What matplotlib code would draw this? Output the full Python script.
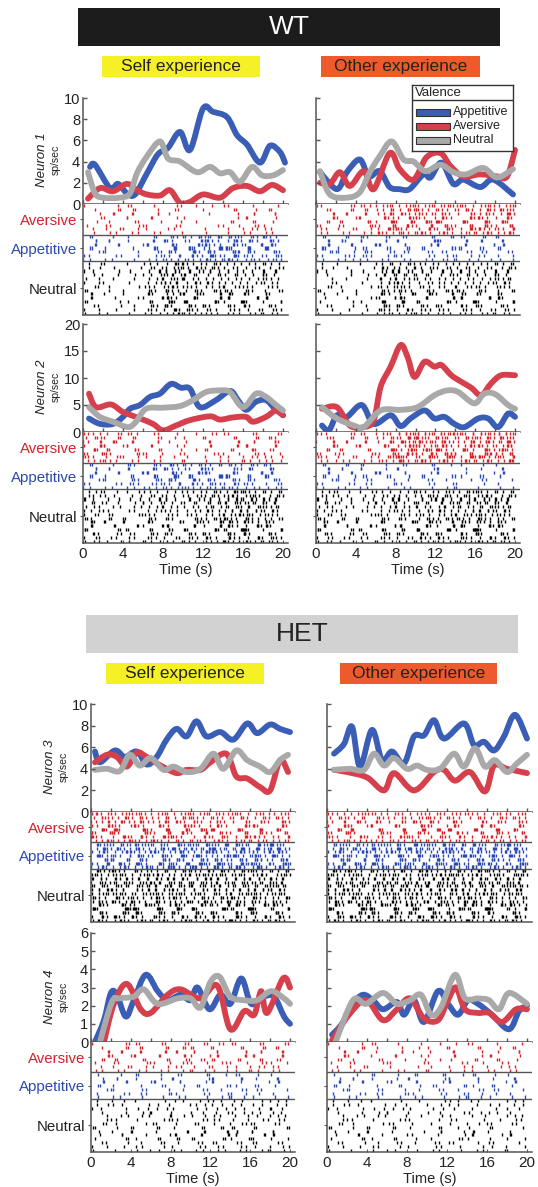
import math
import matplotlib
matplotlib.use('Agg')
import matplotlib.pyplot as plt
from matplotlib.patches import Rectangle, PathPatch
from matplotlib.path import Path

plt.rcParams['font.family'] = ['Liberation Sans', 'DejaVu Sans']

W, H = 538, 1187

# ---- firing-rate curves, (time s, sp/sec) ----
n1_self_app = [(0.7, 3.5), (1.2, 3.7), (2.7, 1.5), (3.5, 1.9), (4.4, 1.0), (5.2, 0.9), (6.4, 2.9), (7.5, 4.7),
               (8.5, 5.3), (9.7, 6.8), (10.7, 5.1), (12.0, 9.0), (13.0, 8.7), (14.4, 8.2), (15.4, 6.5),
               (16.4, 5.6), (17.7, 3.9), (18.7, 5.5), (19.7, 4.9), (20.2, 3.9)]
n1_self_av = [(0.5, 0.5), (1.7, 1.5), (3.0, 1.2), (4.4, 1.9), (5.4, 1.3), (6.4, 0.9), (7.7, 0.8), (8.7, 1.3),
              (9.7, 0.1), (10.7, 0.2), (12.0, 0.9), (13.7, 0.6), (15.0, 1.5), (16.4, 1.7), (17.7, 1.2),
              (18.9, 1.8), (20.0, 1.3)]
n1_self_neu = [(0.5, 3.0), (1.2, 1.0), (2.0, 0.6), (3.7, 0.6), (4.7, 1.0), (5.4, 2.9), (6.4, 4.5), (7.7, 5.9),
               (8.5, 4.3), (9.7, 4.0), (11.4, 3.0), (12.7, 3.5), (13.7, 2.9), (14.7, 3.0), (15.7, 2.1),
               (16.9, 3.5), (17.9, 2.7), (19.0, 2.7), (20.0, 3.2)]

n1_other_app = [(0.4, 3.0), (2.1, 1.4), (3.1, 3.0), (4.4, 4.2), (5.3, 2.6), (6.4, 3.1), (7.4, 1.6), (8.4, 1.4),
                (9.4, 1.4), (10.8, 2.8), (11.5, 2.5), (12.6, 3.9), (13.8, 1.9), (14.8, 2.3), (16.5, 1.6),
                (17.8, 2.3), (19.8, 0.9)]
n1_other_av = [(0.4, 2.0), (1.4, 1.9), (2.4, 3.0), (3.4, 1.7), (4.8, 3.1), (5.8, 1.4), (7.4, 4.8), (8.4, 3.3),
               (9.8, 2.3), (11.1, 4.4), (12.5, 4.8), (13.5, 3.6), (14.8, 2.6), (16.5, 2.8), (18.2, 2.6),
               (19.2, 2.6), (20.0, 5.1)]
n1_other_neu = [(0.4, 3.1), (1.4, 0.9), (3.1, 0.6), (4.4, 1.1), (5.4, 3.0), (6.4, 4.5), (7.6, 5.9), (8.8, 4.2),
                (9.8, 4.0), (11.0, 3.1), (12.5, 3.7), (13.8, 3.0), (15.1, 2.8), (16.8, 3.4), (18.2, 2.5),
                (19.8, 3.3)]

n2_self_app = [(0.6, 2.5), (1.7, 1.5), (3.0, 1.5), (4.0, 2.8), (4.7, 4.3), (5.7, 5.0), (6.7, 6.5), (7.7, 7.1),
               (8.8, 8.9), (9.8, 8.2), (10.7, 8.0), (11.7, 4.6), (13.3, 5.9), (14.7, 7.6), (15.5, 5.9),
               (16.3, 4.1), (17.3, 5.6), (18.3, 5.9), (19.2, 4.3), (20.0, 3.1)]
n2_self_av = [(0.6, 7.1), (1.3, 4.6), (2.8, 5.1), (4.0, 3.7), (5.7, 2.5), (7.0, 1.5), (8.0, 0.3), (9.3, 1.2),
              (10.7, 2.2), (12.7, 2.9), (13.7, 2.3), (15.0, 2.7), (16.3, 2.8), (17.0, 1.9), (18.3, 2.8),
              (19.3, 4.0), (20.0, 3.1)]
n2_self_neu = [(0.6, 4.6), (1.7, 2.8), (3.0, 1.9), (4.5, 0.9), (5.3, 1.9), (6.3, 4.3), (8.0, 4.5), (9.7, 4.8),
               (11.0, 5.9), (12.3, 7.4), (13.7, 7.7), (14.7, 7.4), (16.0, 4.6), (17.3, 7.1), (18.3, 6.5),
               (19.3, 5.0), (20.0, 4.0)]

n2_other_app = [(0.6, 1.2), (1.3, 0.3), (2.1, 3.1), (3.1, 2.8), (4.6, 5.0), (5.8, 1.5), (7.5, 3.1), (8.5, 1.1),
                (9.5, 2.5), (10.9, 4.0), (11.9, 2.5), (12.9, 2.8), (13.9, 1.5), (14.9, 0.9), (16.3, 2.5),
                (17.3, 2.5), (18.3, 0.9), (19.3, 3.4), (20.0, 2.8)]
n2_other_av = [(0.6, 4.3), (2.1, 4.6), (3.4, 1.2), (4.8, 0.9), (5.8, 2.2), (6.5, 8.4), (7.5, 12.1), (8.5, 16.1),
               (9.2, 13.9), (9.9, 10.2), (10.9, 13.0), (11.9, 12.1), (12.6, 12.4), (13.6, 10.5), (14.6, 9.3),
               (15.6, 8.2), (16.6, 6.8), (17.6, 9.0), (18.6, 10.5), (20.0, 10.5)]
n2_other_neu = [(0.6, 4.6), (2.1, 2.5), (3.8, 1.2), (4.8, 0.9), (6.5, 4.0), (8.5, 4.1), (10.2, 4.6), (11.9, 6.8),
                (13.2, 7.7), (14.3, 7.4), (15.9, 5.3), (16.9, 7.1), (18.0, 7.0), (19.3, 5.0), (20.0, 4.3)]

n3_self_app = [(0.4, 5.6), (0.9, 4.6), (2.4, 5.7), (3.4, 5.1), (4.6, 5.6), (5.6, 4.4), (6.6, 5.1), (7.6, 6.7),
               (8.6, 7.7), (9.6, 7.0), (10.6, 8.4), (11.6, 7.0), (13.0, 7.4), (14.3, 6.7), (15.7, 8.2),
               (16.7, 7.3), (18.0, 8.1), (19.0, 7.7), (20.0, 7.4)]
n3_self_av = [(0.4, 4.6), (1.6, 5.3), (2.6, 5.1), (3.6, 4.2), (4.6, 5.5), (5.6, 5.1), (7.0, 4.3), (8.6, 3.6),
              (9.6, 3.9), (11.0, 3.9), (12.0, 4.6), (13.6, 5.4), (14.6, 3.3), (15.7, 3.1), (17.0, 2.3),
              (18.0, 2.0), (19.0, 4.8), (19.8, 3.7)]
n3_self_neu = [(0.4, 3.9), (1.6, 4.0), (2.9, 3.8), (3.9, 5.3), (4.9, 4.3), (6.0, 5.0), (7.3, 3.9), (8.3, 4.2),
               (9.6, 3.7), (11.0, 4.0), (12.3, 5.4), (13.3, 4.0), (14.6, 5.7), (15.7, 4.8), (17.0, 4.2),
               (18.0, 3.7), (19.0, 4.8), (19.8, 5.3)]

n3_other_app = [(0.7, 5.4), (1.7, 6.3), (2.5, 7.9), (3.3, 4.2), (4.5, 7.6), (5.5, 4.8), (6.5, 5.6), (7.7, 4.5),
                (8.7, 7.0), (9.7, 7.1), (10.7, 8.5), (11.7, 6.8), (13.7, 8.2), (14.7, 6.2), (15.7, 6.5),
                (16.7, 5.7), (17.7, 7.0), (18.8, 9.0), (20.0, 6.8)]
n3_other_av = [(0.7, 3.9), (2.0, 3.7), (4.0, 3.2), (5.7, 2.0), (6.7, 3.6), (8.7, 2.0), (10.7, 3.7), (11.7, 3.9),
               (12.8, 2.9), (14.3, 3.7), (15.8, 1.9), (16.7, 4.3), (18.0, 4.0), (20.0, 3.6)]
n3_other_neu = [(0.7, 3.9), (2.3, 4.0), (3.7, 3.9), (4.7, 5.4), (5.7, 4.3), (6.7, 5.0), (8.0, 4.0), (9.0, 4.3),
                (10.0, 3.9), (11.3, 4.0), (12.7, 5.4), (13.7, 4.2), (14.8, 5.9), (15.8, 4.2), (16.8, 4.8),
                (18.0, 3.7), (19.0, 4.5), (20.0, 5.3)]

n4_self_app = [(0.4, 0.0), (1.3, 1.2), (2.0, 2.7), (2.6, 2.6), (3.5, 1.4), (4.3, 2.3), (5.5, 3.7), (6.7, 2.8),
               (7.7, 2.3), (9.0, 2.6), (10.0, 2.3), (10.7, 3.0), (11.9, 1.8), (13.0, 2.6), (14.0, 2.1),
               (15.1, 3.5), (16.1, 2.1), (17.4, 2.5), (18.4, 2.5), (19.4, 1.4), (20.0, 1.0)]
n4_self_av = [(1.3, 0.0), (2.3, 2.1), (3.6, 3.2), (5.0, 1.8), (6.0, 1.6), (7.7, 2.6), (9.0, 2.9), (11.0, 2.4),
              (12.7, 3.1), (14.0, 0.7), (15.4, 1.7), (16.4, 1.5), (17.1, 2.8), (17.7, 1.6), (19.3, 3.5),
              (20.0, 3.0)]
n4_self_neu = [(0.9, 0.0), (2.1, 2.2), (2.9, 2.4), (4.3, 2.5), (5.3, 2.9), (6.7, 2.1), (8.7, 2.4), (10.0, 2.4),
               (11.0, 1.9), (12.0, 3.3), (12.9, 3.6), (14.0, 2.5), (15.4, 2.3), (16.7, 2.3), (18.1, 2.8),
               (19.4, 2.4), (20.0, 2.1)]

n4_other_app = [(0.5, 0.4), (1.5, 1.0), (2.6, 2.1), (3.6, 2.6), (4.6, 2.3), (5.6, 1.8), (7.0, 2.2), (7.7, 1.5),
                (8.7, 2.3), (9.7, 1.1), (11.1, 2.8), (12.1, 2.1), (13.1, 1.5), (14.1, 2.3), (15.1, 2.1),
                (16.5, 1.5), (18.2, 0.7), (19.2, 1.7), (20.0, 2.0)]
n4_other_av = [(0.5, 0.1), (2.2, 1.5), (3.9, 2.3), (5.6, 1.2), (7.0, 1.8), (8.3, 2.4), (9.7, 1.3), (11.1, 1.2),
               (12.1, 2.3), (12.9, 3.0), (13.8, 1.8), (15.1, 1.6), (16.2, 1.6), (17.5, 1.1), (18.9, 1.8),
               (20.0, 1.8)]
n4_other_neu = [(0.85, 0.0), (2.6, 2.3), (3.9, 2.1), (5.6, 2.7), (7.0, 2.1), (8.3, 2.3), (9.4, 2.6), (10.4, 1.5),
                (11.4, 1.9), (12.8, 3.7), (13.8, 2.4), (15.1, 2.4), (16.2, 2.3), (17.2, 1.8), (18.2, 2.7),
                (20.0, 2.1)]

# ---- raster density: ticks per trial in each 2 s bin (0-2 ... 18-20), read by eye ----
r1_self_av = [1, 1.5, 2, 1.5, 1.5, 0.5, 0.8, 1.5, 1.8, 1.5]
r1_self_app = [2, 1.5, 1, 2.5, 4, 4.5, 6, 5.5, 4, 4]
r1_self_neu = [2, 1, 1, 3, 5, 4, 3.5, 3, 3, 3]
r1_other_av = [2, 2, 2.5, 5, 5, 5, 5, 4.5, 5, 5.5]
r1_other_app = [2.5, 2.5, 2.5, 2, 2, 2, 2.5, 2, 2, 2]
r1_other_neu = [1.5, 1, 1, 4, 4, 3, 3, 3, 3, 3.5]
r2_self_av = [4, 3, 2.5, 2, 1, 1, 2, 2, 2.5, 2.5]
r2_self_app = [2, 1.5, 2.5, 3, 5, 4, 4, 4, 3, 3]
r2_self_neu = [3, 2, 2, 3, 3, 3, 4, 5, 5, 4]
r2_other_av = [3, 2, 2, 4, 7, 7, 7, 6, 6, 7]
r2_other_app = [2, 2, 2, 1.5, 1.5, 1.5, 1.5, 1, 1.5, 1.5]
r2_other_neu = [3, 2, 2, 3, 3, 4, 4, 4, 5, 4]
r3_self_av = [5, 5, 5, 5, 4.5, 4.5, 4.5, 4.5, 4, 4]
r3_self_app = [6, 6, 6, 6, 6.5, 7, 7, 7, 7, 7]
r3_self_neu = [5, 5, 5, 5, 5, 5, 5, 5, 5, 5]
r3_other_av = [4, 4, 3.5, 4, 4, 4, 4, 3.5, 4, 4]
r3_other_app = [6, 6, 6, 6, 6.5, 6.5, 6.5, 6.5, 6.5, 7]
r3_other_neu = [5, 5, 5, 5, 5, 5, 5.5, 5, 5, 5.5]
r4_self_av = [1.5, 2, 2, 2, 2, 2, 2, 2, 2, 2]
r4_self_app = [1.5, 1.5, 1.5, 1.5, 1.5, 1.5, 1.5, 1.5, 1.5, 1.5]
r4_self_neu = [1.5, 1.5, 1.5, 1.5, 1.5, 2, 2, 2, 2, 2]
r4_other_av = [1.5, 1.5, 1.5, 1.5, 1, 1, 1.5, 1.5, 1.5, 1.5]
r4_other_app = [1.5, 1.5, 1.5, 1.5, 1.5, 1.5, 1.5, 1.5, 1.5, 1.5]
r4_other_neu = [1.5, 1.5, 1.5, 1.5, 1, 1.5, 1.5, 1.5, 1.5, 1.5]

C_APP, C_AV, C_NEU = '#3a5eb5', '#d6404d', '#a9a9a9'
R_AV, R_APP = '#d2232a', '#2a48b0'
SPINE = '#555555'
TXT = '#222222'
N_AV, N_APP, N_NEU = 8, 7, 14


def box(x0, y0, x1, y1):
    return [x0 / W, 1 - y1 / H, (x1 - x0) / W, (y1 - y0) / H]


fig = plt.figure(figsize=(W / 100, H / 100), dpi=100)


def banner(x0, y0, x1, y1, label, fc, tc, fs):
    fig.patches.append(Rectangle((x0 / W, 1 - y1 / H), (x1 - x0) / W, (y1 - y0) / H,
                                 transform=fig.transFigure, facecolor=fc, edgecolor='none'))
    fig.text((x0 + x1) / 2 / W, 1 - (y0 + y1) / 2 / H, label, color=tc, fontsize=fs,
             ha='center', va='center')


banner(78, 8, 500, 46, 'WT', '#1c1c1c', 'white', 19)
banner(102, 56, 260, 77, 'Self experience', '#f6f126', TXT, 12.5)
banner(321, 56, 480, 77, 'Other experience', '#ef5a2c', TXT, 12.5)
banner(86, 615, 518, 653, 'HET', '#d2d2d2', TXT, 19)
banner(106, 663, 264, 684, 'Self experience', '#f6f126', TXT, 12.5)
banner(340, 663, 497, 684, 'Other experience', '#ef5a2c', TXT, 12.5)


def smooth_path(pts):
    # Catmull-Rom through the read points, drawn as cubic Bezier segments
    verts = [pts[0]]
    codes = [Path.MOVETO]
    n = len(pts)
    for i in range(n - 1):
        p0 = pts[max(i - 1, 0)]
        p1, p2 = pts[i], pts[i + 1]
        p3 = pts[min(i + 2, n - 1)]
        c1 = (p1[0] + (p2[0] - p0[0]) / 6, p1[1] + (p2[1] - p0[1]) / 6)
        c2 = (p2[0] - (p3[0] - p1[0]) / 6, p2[1] - (p3[1] - p1[1]) / 6)
        verts += [c1, c2, p2]
        codes += [Path.CURVE4] * 3
    return Path(verts, codes)


def spikes(dens, n_rows, row0, seed):
    # lay the read per-bin counts out as ticks, spread evenly with a
    # quadratic Weyl offset per trial so rows do not line up
    ts, rs = [], []
    for r in range(n_rows):
        ph = (0.5 * r * r * 0.7548777 + r * 0.5698403 + seed) % 1
        step = 0.618034 + 0.0731 * r
        for b, d in enumerate(dens):
            off = (0.37 * b + seed + 0.29 * r) % 1
            n = int(math.floor((r + 1) * d + off) - math.floor(r * d + off))
            for j in range(n):
                u = (ph + b * (r * 0.381966 + 0.1) + j * step + 0.13 * b * b * r + 0.047 * j * j) % 1
                ts.append(2 * b + 2 * u)
                rs.append(row0 + r + 0.5)
    return ts, rs


def panel(xs, ys_line, ys_rast, curves, rast, yticks, name, left, bottom):
    x0, x1 = xs
    ax = fig.add_axes(box(x0, ys_line[0], x1, ys_line[1]))
    for pts, c in zip(curves, [C_APP, C_AV, C_NEU]):
        ax.add_patch(PathPatch(smooth_path(pts), fill=False, edgecolor=c, lw=4.2,
                               capstyle='round', joinstyle='round'))
    ax.set_xlim(0, 20.5)
    ax.set_ylim(0, yticks[-1])
    ax.set_yticks(yticks)
    ax.set_xticks(range(0, 21, 2))
    ax.set_xticklabels([])
    if not left:
        ax.set_yticklabels([])
    ax.tick_params(direction='in', length=3, width=1, color=SPINE, labelsize=10.5, pad=2, labelcolor=TXT)
    for s in ['top', 'right']:
        ax.spines[s].set_visible(False)
    for s in ['left', 'bottom']:
        ax.spines[s].set_color(SPINE)
        ax.spines[s].set_linewidth(1.1)

    if left:
        yc = 1 - ((ys_line[0] + ys_line[1]) / 2 + 9) / H
        fig.text((x0 - 41) / W, yc, name, rotation=90, style='italic', fontsize=9.5,
                 ha='center', va='center', color=TXT)
        fig.text((x0 - 27) / W, yc, 'sp/sec', rotation=90, fontsize=7.5,
                 ha='center', va='center', color=TXT)

    ar = fig.add_axes(box(x0, ys_rast[0], x1, ys_rast[1]))
    groups = [(rast[2], N_NEU, 0, 'k'), (rast[1], N_APP, N_NEU, R_APP), (rast[0], N_AV, N_NEU + N_APP, R_AV)]
    for i, (dens, n, r0, c) in enumerate(groups):
        ts, rs = spikes(dens, n, r0, 0.23 * i + 0.11)
        ar.vlines(ts, [r - 0.4 for r in rs], [r + 0.4 for r in rs], color=c, lw=1.0)
    ar.axhline(N_NEU, color=SPINE, lw=1.0)
    ar.axhline(N_NEU + N_APP, color=SPINE, lw=1.0)
    ar.set_xlim(0, 20.5)
    ar.set_ylim(0, N_NEU + N_APP + N_AV)
    ar.set_yticks([N_NEU / 2, N_NEU + N_APP / 2, N_NEU + N_APP + N_AV / 2])
    if left:
        ar.set_yticklabels(['Neutral', 'Appetitive', 'Aversive'], fontsize=10.8)
        for lab, c in zip(ar.get_yticklabels(), [TXT, R_APP, R_AV]):
            lab.set_color(c)
    else:
        ar.set_yticklabels([])
    ar.tick_params(axis='y', direction='out', length=2.5, color=SPINE, pad=1.5)
    ar.set_xticks(range(0, 21, 4))
    if bottom:
        ar.tick_params(axis='x', direction='in', length=2, color=SPINE, labelsize=11, pad=3, labelcolor=TXT)
        ar.set_xlabel('Time (s)', fontsize=10.5, labelpad=1, color=TXT)
    else:
        ar.set_xticklabels([])
        ar.tick_params(axis='x', length=0)
    for s in ['top', 'right']:
        ar.spines[s].set_visible(False)
    for s in ['left', 'bottom']:
        ar.spines[s].set_color(SPINE)
        ar.spines[s].set_linewidth(1.1)
    return ax


# WT
panel((83, 288), (98, 204), (204, 315), [n1_self_app, n1_self_av, n1_self_neu],
      [r1_self_av, r1_self_app, r1_self_neu], [0, 2, 4, 6, 8, 10], 'Neuron 1', True, False)
panel((316, 520), (98, 204), (204, 315), [n1_other_app, n1_other_av, n1_other_neu],
      [r1_other_av, r1_other_app, r1_other_neu], [0, 2, 4, 6, 8, 10], 'Neuron 1', False, False)
panel((83, 288), (324, 432), (432, 543), [n2_self_app, n2_self_av, n2_self_neu],
      [r2_self_av, r2_self_app, r2_self_neu], [0, 5, 10, 15, 20], 'Neuron 2', True, True)
panel((316, 520), (324, 432), (432, 543), [n2_other_app, n2_other_av, n2_other_neu],
      [r2_other_av, r2_other_app, r2_other_neu], [0, 5, 10, 15, 20], 'Neuron 2', False, True)
# HET
panel((91, 295), (704, 812), (812, 922), [n3_self_app, n3_self_av, n3_self_neu],
      [r3_self_av, r3_self_app, r3_self_neu], [0, 2, 4, 6, 8, 10], 'Neuron 3', True, False)
panel((327, 532), (704, 812), (812, 922), [n3_other_app, n3_other_av, n3_other_neu],
      [r3_other_av, r3_other_app, r3_other_neu], [0, 2, 4, 6, 8, 10], 'Neuron 3', False, False)
panel((91, 295), (933, 1042), (1042, 1152), [n4_self_app, n4_self_av, n4_self_neu],
      [r4_self_av, r4_self_app, r4_self_neu], [0, 1, 2, 3, 4, 5, 6], 'Neuron 4', True, True)
panel((327, 532), (933, 1042), (1042, 1152), [n4_other_app, n4_other_av, n4_other_neu],
      [r4_other_av, r4_other_app, r4_other_neu], [0, 1, 2, 3, 4, 5, 6], 'Neuron 4', False, True)

# legend box
lg = fig.add_axes(box(412, 85, 513, 151))
lg.set_xlim(412, 513)
lg.set_ylim(151, 85)
lg.set_xticks([])
lg.set_yticks([])
for s in lg.spines.values():
    s.set_color('#333333')
    s.set_linewidth(1.0)
lg.text(415, 92.5, 'Valence', fontsize=9.5, va='center', ha='left', color=TXT)
lg.axhline(100, color='#333333', lw=1.0)
for yy, lab, c in [(112, 'Appetitive', C_APP), (126, 'Aversive', C_AV), (140, 'Neutral', C_NEU)]:
    lg.add_patch(Rectangle((416, yy - 3.5), 34, 7, facecolor=c, edgecolor='#333333', lw=0.8))
    lg.text(453, yy, lab, fontsize=9, va='center', ha='left', color=TXT)

fig.savefig('out.png', dpi=100)
